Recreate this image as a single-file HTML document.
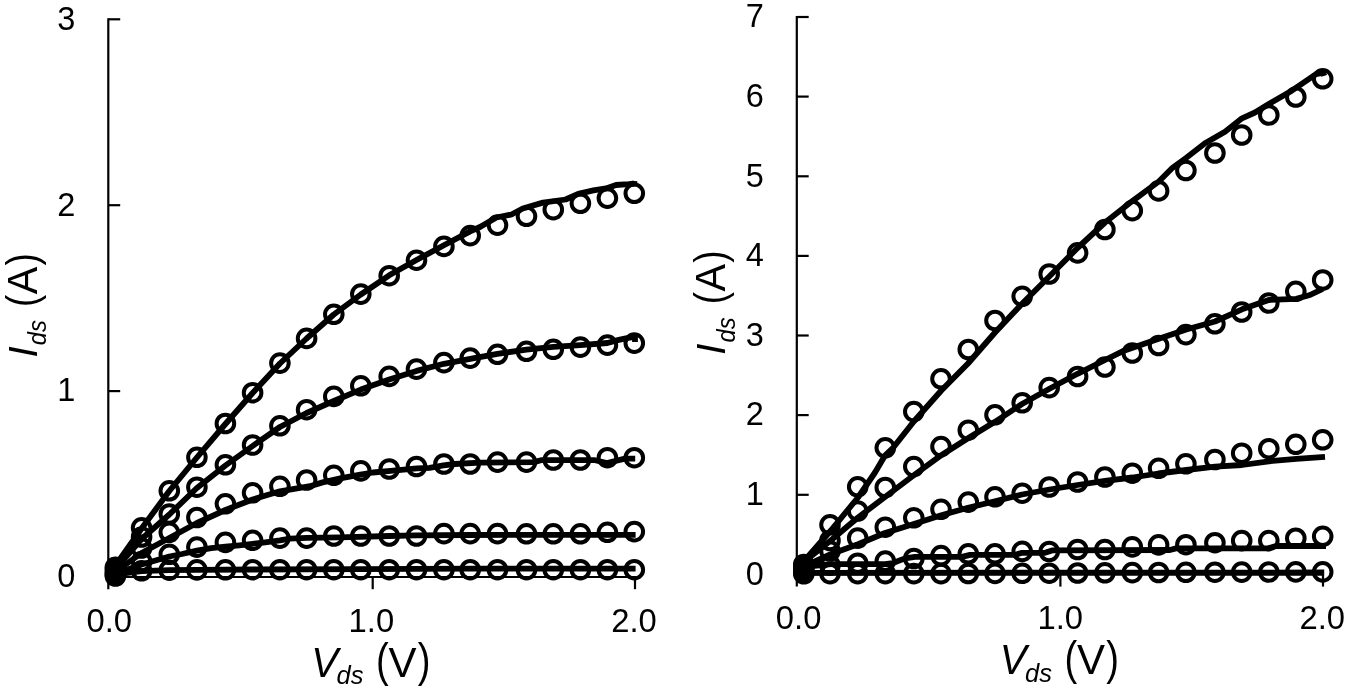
<!DOCTYPE html>
<html><head><meta charset="utf-8"><title>Ids-Vds</title>
<style>
html,body{margin:0;padding:0;background:#fff;}
body{width:1350px;height:692px;overflow:hidden;}
svg{display:block;filter:grayscale(1);}
text{font-family:"Liberation Sans",sans-serif;fill:#000;}
.ax{stroke:#000;stroke-width:2.20;fill:none;stroke-linecap:butt;}
.cv{stroke:#000;stroke-width:5.80;fill:none;stroke-linejoin:round;stroke-linecap:butt;}
.pt{stroke:#000;stroke-width:4.00;fill:none;}
.tk{font-size:32.5px;}
.it{font-style:italic;}
</style></head><body>
<svg width="1350" height="692" viewBox="0 0 1350 692">
<rect x="0" y="0" width="1350" height="692" fill="#fff"/>
<g class="ax">
<line x1="108.3" y1="18.2" x2="108.3" y2="589.2"/>
<line x1="108.3" y1="577.0" x2="636.0" y2="577.0"/>
<line x1="108.3" y1="391.1" x2="120.2" y2="391.1"/>
<line x1="108.3" y1="205.2" x2="120.2" y2="205.2"/>
<line x1="108.3" y1="19.3" x2="120.2" y2="19.3"/>
<line x1="372.7" y1="577.0" x2="372.7" y2="589.2"/>
<line x1="635.0" y1="577.0" x2="635.0" y2="589.2"/>
</g>
<text class="tk" x="75.3" y="587.3" text-anchor="end">0</text>
<text class="tk" x="75.3" y="401.4" text-anchor="end">1</text>
<text class="tk" x="75.3" y="215.5" text-anchor="end">2</text>
<text class="tk" x="75.3" y="29.6" text-anchor="end">3</text>
<text class="tk" x="109.3" y="632.0" text-anchor="middle" textLength="45.6" lengthAdjust="spacingAndGlyphs">0.0</text>
<text class="tk" x="371.4" y="632.0" text-anchor="middle" textLength="45.6" lengthAdjust="spacingAndGlyphs">1.0</text>
<text class="tk" x="634.0" y="632.0" text-anchor="middle" textLength="45.6" lengthAdjust="spacingAndGlyphs">2.0</text>
<path class="cv" d="M108.5,576.0 L118.0,562.0 L141.6,528.5 L169.3,491.0 L196.9,457.5 L225.4,424.0 L252.6,393.0 L279.9,363.5 L306.6,338.5 L333.8,314.5 L360.8,294.5 L389.2,275.3 L416.5,260.0 L443.9,245.3 L470.2,231.4 L480.0,227.0 L496.4,217.5 L511.5,214.5 L522.8,208.5 L543.0,202.6 L565.6,199.5 L578.2,193.8 L593.4,190.4 L606.0,188.4 L616.0,185.0 L628.6,184.2 L634.3,183.6 L634.5,181.0"/>
<path class="cv" d="M108.5,576.0 L118.0,566.0 L141.6,539.0 L169.3,514.5 L196.9,488.0 L225.4,465.5 L252.6,446.0 L279.9,427.0 L306.6,413.0 L333.8,401.0 L360.8,389.6 L389.2,379.6 L416.5,370.9 L443.9,363.8 L470.2,358.8 L497.4,353.8 L526.5,349.6 L553.3,346.8 L580.4,345.1 L607.4,343.0 L618.8,339.9 L630.7,337.3 L635.0,337.0 L635.0,342.0"/>
<path class="cv" d="M108.5,576.5 L118.0,570.0 L141.6,553.0 L169.3,538.0 L196.9,523.0 L225.4,510.0 L252.6,499.5 L279.9,491.3 L310.0,486.2 L322.6,482.4 L341.5,478.2 L360.4,474.6 L373.0,472.5 L390.6,470.8 L417.0,468.4 L429.6,467.8 L443.5,465.3 L454.8,464.0 L480.0,462.6 L534.0,462.1 L541.0,460.2 L595.0,460.2 L607.0,463.0 L625.0,458.6 L635.2,458.6"/>
<path class="cv" d="M108.5,576.8 L118.0,573.0 L141.6,564.5 L169.3,556.5 L182.0,554.0 L196.9,550.7 L211.2,548.1 L225.4,546.6 L239.3,545.3 L252.6,543.8 L265.3,542.3 L279.9,540.3 L290.0,538.6 L306.6,537.9 L340.0,537.4 L389.2,536.0 L416.5,535.4 L470.2,535.0 L526.5,534.8 L580.4,534.8 L635.6,534.8"/>
<path class="cv" d="M108.5,576.8 L118.0,574.0 L141.6,571.2 L169.3,570.2 L196.9,569.8 L252.6,569.5 L360.8,569.2 L470.2,568.6 L635.6,568.6"/>
<g class="pt">
<circle cx="115.4" cy="567.3" r="8.8"/>
<circle cx="141.6" cy="527.8" r="8.8"/>
<circle cx="169.3" cy="490.8" r="8.8"/>
<circle cx="196.9" cy="457.3" r="8.8"/>
<circle cx="225.4" cy="423.5" r="8.8"/>
<circle cx="252.6" cy="392.7" r="8.8"/>
<circle cx="279.9" cy="363.1" r="8.8"/>
<circle cx="306.6" cy="338.4" r="8.8"/>
<circle cx="333.8" cy="314.3" r="8.8"/>
<circle cx="360.8" cy="294.1" r="8.8"/>
<circle cx="389.2" cy="275.7" r="8.8"/>
<circle cx="416.5" cy="260.2" r="8.8"/>
<circle cx="443.9" cy="246.4" r="8.8"/>
<circle cx="470.2" cy="235.6" r="8.8"/>
<circle cx="497.5" cy="225.1" r="8.8"/>
<circle cx="526.5" cy="216.3" r="8.8"/>
<circle cx="553.3" cy="209.6" r="8.8"/>
<circle cx="580.4" cy="203.3" r="8.8"/>
<circle cx="607.4" cy="198.1" r="8.8"/>
<circle cx="634.3" cy="193.3" r="8.8"/>
<circle cx="115.4" cy="569.5" r="8.8"/>
<circle cx="141.6" cy="537.0" r="8.8"/>
<circle cx="169.3" cy="514.0" r="8.8"/>
<circle cx="196.9" cy="487.2" r="8.8"/>
<circle cx="225.4" cy="464.8" r="8.8"/>
<circle cx="252.6" cy="445.0" r="8.8"/>
<circle cx="279.9" cy="425.8" r="8.8"/>
<circle cx="306.6" cy="409.7" r="8.8"/>
<circle cx="333.8" cy="396.4" r="8.8"/>
<circle cx="360.8" cy="385.8" r="8.8"/>
<circle cx="389.2" cy="376.4" r="8.8"/>
<circle cx="416.5" cy="369.1" r="8.8"/>
<circle cx="443.9" cy="362.6" r="8.8"/>
<circle cx="470.2" cy="358.1" r="8.8"/>
<circle cx="497.5" cy="354.3" r="8.8"/>
<circle cx="526.5" cy="351.3" r="8.8"/>
<circle cx="553.3" cy="349.3" r="8.8"/>
<circle cx="580.4" cy="347.1" r="8.8"/>
<circle cx="607.4" cy="345.1" r="8.8"/>
<circle cx="634.3" cy="343.1" r="8.8"/>
<circle cx="115.4" cy="572.5" r="8.8"/>
<circle cx="141.6" cy="548.0" r="8.8"/>
<circle cx="169.3" cy="532.3" r="8.8"/>
<circle cx="196.9" cy="517.5" r="8.8"/>
<circle cx="225.4" cy="503.8" r="8.8"/>
<circle cx="252.6" cy="492.8" r="8.8"/>
<circle cx="279.9" cy="486.3" r="8.8"/>
<circle cx="306.6" cy="480.0" r="8.8"/>
<circle cx="333.8" cy="475.3" r="8.8"/>
<circle cx="360.8" cy="470.9" r="8.8"/>
<circle cx="389.2" cy="469.0" r="8.8"/>
<circle cx="416.5" cy="466.5" r="8.8"/>
<circle cx="443.9" cy="464.0" r="8.8"/>
<circle cx="470.2" cy="464.0" r="8.8"/>
<circle cx="497.5" cy="462.1" r="8.8"/>
<circle cx="526.5" cy="462.1" r="8.8"/>
<circle cx="553.3" cy="460.0" r="8.8"/>
<circle cx="580.4" cy="460.0" r="8.8"/>
<circle cx="607.4" cy="457.7" r="8.8"/>
<circle cx="634.3" cy="457.7" r="8.8"/>
<circle cx="115.4" cy="574.5" r="8.8"/>
<circle cx="141.6" cy="561.5" r="8.8"/>
<circle cx="169.3" cy="554.3" r="8.8"/>
<circle cx="196.9" cy="547.1" r="8.8"/>
<circle cx="225.4" cy="542.4" r="8.8"/>
<circle cx="252.6" cy="540.3" r="8.8"/>
<circle cx="279.9" cy="538.1" r="8.8"/>
<circle cx="306.6" cy="538.1" r="8.8"/>
<circle cx="333.8" cy="536.0" r="8.8"/>
<circle cx="360.8" cy="536.0" r="8.8"/>
<circle cx="389.2" cy="536.0" r="8.8"/>
<circle cx="416.5" cy="536.0" r="8.8"/>
<circle cx="443.9" cy="533.6" r="8.8"/>
<circle cx="470.2" cy="533.6" r="8.8"/>
<circle cx="497.5" cy="533.6" r="8.8"/>
<circle cx="526.5" cy="533.8" r="8.8"/>
<circle cx="553.3" cy="533.8" r="8.8"/>
<circle cx="580.4" cy="533.8" r="8.8"/>
<circle cx="607.4" cy="532.3" r="8.8"/>
<circle cx="634.3" cy="531.6" r="8.8"/>
<circle cx="115.4" cy="576.0" r="8.8"/>
<circle cx="141.6" cy="570.8" r="8.8"/>
<circle cx="169.3" cy="570.2" r="8.8"/>
<circle cx="196.9" cy="569.9" r="8.8"/>
<circle cx="225.4" cy="569.8" r="8.8"/>
<circle cx="252.6" cy="569.7" r="8.8"/>
<circle cx="279.9" cy="569.7" r="8.8"/>
<circle cx="306.6" cy="569.7" r="8.8"/>
<circle cx="333.8" cy="569.7" r="8.8"/>
<circle cx="360.8" cy="569.7" r="8.8"/>
<circle cx="389.2" cy="569.7" r="8.8"/>
<circle cx="416.5" cy="569.7" r="8.8"/>
<circle cx="443.9" cy="569.7" r="8.8"/>
<circle cx="470.2" cy="569.7" r="8.8"/>
<circle cx="497.5" cy="569.7" r="8.8"/>
<circle cx="526.5" cy="569.7" r="8.8"/>
<circle cx="553.3" cy="569.7" r="8.8"/>
<circle cx="580.4" cy="569.7" r="8.8"/>
<circle cx="607.4" cy="569.7" r="8.8"/>
<circle cx="634.3" cy="569.7" r="8.8"/>
</g>
<text class="it" font-size="41.5" transform="translate(36.60,357.80) rotate(-90) scale(1.0,1)">I</text>
<text class="it" font-size="25.0" transform="translate(46.00,345.20) rotate(-90) scale(0.95,1)">ds</text>
<text class="" font-size="43.5" transform="translate(36.90,307.00) rotate(-90) scale(0.85,1)">(</text>
<text class="" font-size="42.0" transform="translate(36.60,294.20) rotate(-90) scale(0.98,1)">A</text>
<text class="" font-size="43.5" transform="translate(36.90,265.40) rotate(-90) scale(0.85,1)">)</text>
<text class="it" font-size="42.0" transform="translate(311.30,677.00) scale(0.96,1)">V</text>
<text class="it" font-size="25.0" transform="translate(336.50,684.20) scale(1.02,1)">ds</text>
<text class="" font-size="46.0" transform="translate(375.90,676.40) scale(0.83,1)">(</text>
<text class="" font-size="42.0" transform="translate(388.40,677.00) scale(1.0,1)">V</text>
<text class="" font-size="46.0" transform="translate(417.80,676.40) scale(0.83,1)">)</text>
<g class="ax">
<line x1="796.8" y1="15.9" x2="796.8" y2="586.6"/>
<line x1="796.8" y1="574.4" x2="1324.0" y2="574.4"/>
<line x1="796.8" y1="494.8" x2="808.7" y2="494.8"/>
<line x1="796.8" y1="415.1" x2="808.7" y2="415.1"/>
<line x1="796.8" y1="335.5" x2="808.7" y2="335.5"/>
<line x1="796.8" y1="255.9" x2="808.7" y2="255.9"/>
<line x1="796.8" y1="176.3" x2="808.7" y2="176.3"/>
<line x1="796.8" y1="96.6" x2="808.7" y2="96.6"/>
<line x1="796.8" y1="17.0" x2="808.7" y2="17.0"/>
<line x1="1060.4" y1="574.4" x2="1060.4" y2="586.6"/>
<line x1="1323.0" y1="574.4" x2="1323.0" y2="586.6"/>
</g>
<text class="tk" x="763.8" y="584.7" text-anchor="end">0</text>
<text class="tk" x="763.8" y="505.1" text-anchor="end">1</text>
<text class="tk" x="763.8" y="425.4" text-anchor="end">2</text>
<text class="tk" x="763.8" y="345.8" text-anchor="end">3</text>
<text class="tk" x="763.8" y="266.2" text-anchor="end">4</text>
<text class="tk" x="763.8" y="186.6" text-anchor="end">5</text>
<text class="tk" x="763.8" y="106.9" text-anchor="end">6</text>
<text class="tk" x="763.8" y="27.3" text-anchor="end">7</text>
<text class="tk" x="798.6" y="629.2" text-anchor="middle" textLength="45.6" lengthAdjust="spacingAndGlyphs">0.0</text>
<text class="tk" x="1060.2" y="629.2" text-anchor="middle" textLength="45.6" lengthAdjust="spacingAndGlyphs">1.0</text>
<text class="tk" x="1322.2" y="629.2" text-anchor="middle" textLength="45.6" lengthAdjust="spacingAndGlyphs">2.0</text>
<path class="cv" d="M797.0,573.5 L805.0,560.0 L831.3,530.0 L858.0,497.5 L875.0,472.5 L885.0,455.5 L893.3,447.5 L913.8,421.5 L941.3,390.5 L968.0,363.5 L995.0,332.5 L1022.0,303.8 L1049.5,276.3 L1077.5,248.0 L1105.0,222.5 L1132.0,201.3 L1158.8,181.5 L1172.5,167.8 L1186.3,157.8 L1205.0,143.2 L1225.0,131.8 L1242.0,118.3 L1255.0,112.5 L1268.8,104.0 L1290.0,91.8 L1304.7,81.8 L1316.0,74.2 L1323.2,72.6 L1324.2,75.8"/>
<path class="cv" d="M797.0,573.5 L805.0,561.0 L831.3,540.0 L858.0,517.5 L885.0,497.0 L913.8,475.2 L941.3,455.2 L968.0,438.3 L995.0,421.8 L1022.0,404.0 L1049.5,388.8 L1077.5,373.8 L1105.0,360.0 L1122.5,351.3 L1158.8,338.8 L1186.3,329.5 L1215.0,321.5 L1242.0,309.3 L1268.8,300.0 L1296.3,298.8 L1310.0,295.0 L1322.7,288.8"/>
<path class="cv" d="M797.0,574.0 L805.0,566.0 L831.3,554.0 L858.0,544.2 L885.0,533.0 L913.8,524.0 L941.3,515.3 L968.0,507.8 L995.0,501.2 L1022.0,494.5 L1049.5,489.5 L1077.5,485.0 L1105.0,480.8 L1132.5,477.5 L1158.3,473.5 L1186.3,470.0 L1215.0,466.7 L1242.0,465.0 L1268.8,461.3 L1296.3,458.8 L1325.0,456.8"/>
<path class="cv" d="M797.0,574.0 L812.0,566.0 L831.0,564.2 L885.0,564.2 L893.0,563.0 L905.0,558.4 L915.0,556.9 L962.0,556.9 L970.0,554.9 L1015.0,554.9 L1022.0,552.8 L1045.0,552.8 L1052.0,550.4 L1170.0,550.0 L1176.0,548.4 L1268.0,548.4 L1276.0,546.0 L1326.0,546.0"/>
<path class="cv" d="M797.0,574.0 L815.0,572.8 L1324.2,572.5"/>
<g class="pt">
<circle cx="803.8" cy="564.5" r="8.8"/>
<circle cx="830.0" cy="524.8" r="8.8"/>
<circle cx="857.7" cy="486.8" r="8.8"/>
<circle cx="885.3" cy="447.8" r="8.8"/>
<circle cx="913.8" cy="411.6" r="8.8"/>
<circle cx="941.0" cy="378.8" r="8.8"/>
<circle cx="968.3" cy="349.5" r="8.8"/>
<circle cx="995.0" cy="320.5" r="8.8"/>
<circle cx="1022.2" cy="296.3" r="8.8"/>
<circle cx="1049.2" cy="274.0" r="8.8"/>
<circle cx="1077.6" cy="252.9" r="8.8"/>
<circle cx="1104.9" cy="229.5" r="8.8"/>
<circle cx="1132.3" cy="210.6" r="8.8"/>
<circle cx="1158.6" cy="190.9" r="8.8"/>
<circle cx="1185.9" cy="170.5" r="8.8"/>
<circle cx="1214.9" cy="153.0" r="8.8"/>
<circle cx="1241.7" cy="135.0" r="8.8"/>
<circle cx="1268.8" cy="115.0" r="8.8"/>
<circle cx="1295.8" cy="97.0" r="8.8"/>
<circle cx="1322.7" cy="78.8" r="8.8"/>
<circle cx="803.8" cy="566.5" r="8.8"/>
<circle cx="830.0" cy="540.5" r="8.8"/>
<circle cx="857.7" cy="511.0" r="8.8"/>
<circle cx="885.3" cy="487.5" r="8.8"/>
<circle cx="913.8" cy="466.6" r="8.8"/>
<circle cx="941.0" cy="446.6" r="8.8"/>
<circle cx="968.3" cy="430.2" r="8.8"/>
<circle cx="995.0" cy="414.8" r="8.8"/>
<circle cx="1022.2" cy="402.8" r="8.8"/>
<circle cx="1049.2" cy="387.6" r="8.8"/>
<circle cx="1077.6" cy="376.5" r="8.8"/>
<circle cx="1104.9" cy="367.0" r="8.8"/>
<circle cx="1132.3" cy="353.0" r="8.8"/>
<circle cx="1158.6" cy="345.5" r="8.8"/>
<circle cx="1185.9" cy="334.6" r="8.8"/>
<circle cx="1214.9" cy="323.8" r="8.8"/>
<circle cx="1241.7" cy="312.0" r="8.8"/>
<circle cx="1268.8" cy="303.0" r="8.8"/>
<circle cx="1295.8" cy="291.3" r="8.8"/>
<circle cx="1322.7" cy="280.0" r="8.8"/>
<circle cx="803.8" cy="569.5" r="8.8"/>
<circle cx="830.0" cy="551.0" r="8.8"/>
<circle cx="857.7" cy="538.1" r="8.8"/>
<circle cx="885.3" cy="527.2" r="8.8"/>
<circle cx="913.8" cy="517.8" r="8.8"/>
<circle cx="941.0" cy="509.3" r="8.8"/>
<circle cx="968.3" cy="502.1" r="8.8"/>
<circle cx="995.0" cy="496.8" r="8.8"/>
<circle cx="1022.2" cy="493.2" r="8.8"/>
<circle cx="1049.2" cy="487.0" r="8.8"/>
<circle cx="1077.6" cy="482.0" r="8.8"/>
<circle cx="1104.9" cy="477.0" r="8.8"/>
<circle cx="1132.3" cy="473.2" r="8.8"/>
<circle cx="1158.6" cy="468.3" r="8.8"/>
<circle cx="1185.9" cy="463.8" r="8.8"/>
<circle cx="1214.9" cy="459.5" r="8.8"/>
<circle cx="1241.7" cy="453.2" r="8.8"/>
<circle cx="1268.8" cy="448.7" r="8.8"/>
<circle cx="1295.8" cy="444.3" r="8.8"/>
<circle cx="1322.7" cy="439.8" r="8.8"/>
<circle cx="803.8" cy="572.0" r="8.8"/>
<circle cx="830.0" cy="565.2" r="8.8"/>
<circle cx="857.7" cy="563.2" r="8.8"/>
<circle cx="885.3" cy="561.1" r="8.8"/>
<circle cx="913.8" cy="558.5" r="8.8"/>
<circle cx="941.0" cy="555.6" r="8.8"/>
<circle cx="968.3" cy="553.8" r="8.8"/>
<circle cx="995.0" cy="553.8" r="8.8"/>
<circle cx="1022.2" cy="551.4" r="8.8"/>
<circle cx="1049.2" cy="551.5" r="8.8"/>
<circle cx="1077.6" cy="549.5" r="8.8"/>
<circle cx="1104.9" cy="549.5" r="8.8"/>
<circle cx="1132.3" cy="546.9" r="8.8"/>
<circle cx="1158.6" cy="544.9" r="8.8"/>
<circle cx="1185.9" cy="544.7" r="8.8"/>
<circle cx="1214.9" cy="542.7" r="8.8"/>
<circle cx="1241.7" cy="540.6" r="8.8"/>
<circle cx="1268.8" cy="540.6" r="8.8"/>
<circle cx="1295.8" cy="538.2" r="8.8"/>
<circle cx="1322.7" cy="536.3" r="8.8"/>
<circle cx="803.8" cy="573.8" r="8.8"/>
<circle cx="830.0" cy="573.6" r="8.8"/>
<circle cx="857.7" cy="573.6" r="8.8"/>
<circle cx="885.3" cy="573.6" r="8.8"/>
<circle cx="913.8" cy="573.6" r="8.8"/>
<circle cx="941.0" cy="573.6" r="8.8"/>
<circle cx="968.3" cy="573.5" r="8.8"/>
<circle cx="995.0" cy="573.4" r="8.8"/>
<circle cx="1022.2" cy="573.3" r="8.8"/>
<circle cx="1049.2" cy="573.2" r="8.8"/>
<circle cx="1077.6" cy="573.0" r="8.8"/>
<circle cx="1104.9" cy="572.8" r="8.8"/>
<circle cx="1132.3" cy="572.6" r="8.8"/>
<circle cx="1158.6" cy="572.5" r="8.8"/>
<circle cx="1185.9" cy="572.3" r="8.8"/>
<circle cx="1214.9" cy="572.2" r="8.8"/>
<circle cx="1241.7" cy="572.1" r="8.8"/>
<circle cx="1268.8" cy="572.0" r="8.8"/>
<circle cx="1295.8" cy="571.9" r="8.8"/>
<circle cx="1322.7" cy="571.9" r="8.8"/>
</g>
<text class="it" font-size="41.5" transform="translate(725.10,355.10) rotate(-90) scale(1.0,1)">I</text>
<text class="it" font-size="25.0" transform="translate(734.50,342.50) rotate(-90) scale(0.95,1)">ds</text>
<text class="" font-size="43.5" transform="translate(725.40,304.30) rotate(-90) scale(0.85,1)">(</text>
<text class="" font-size="42.0" transform="translate(725.10,291.50) rotate(-90) scale(0.98,1)">A</text>
<text class="" font-size="43.5" transform="translate(725.40,262.70) rotate(-90) scale(0.85,1)">)</text>
<text class="it" font-size="42.0" transform="translate(999.80,674.30) scale(0.96,1)">V</text>
<text class="it" font-size="25.0" transform="translate(1025.00,681.50) scale(1.02,1)">ds</text>
<text class="" font-size="46.0" transform="translate(1064.40,673.70) scale(0.83,1)">(</text>
<text class="" font-size="42.0" transform="translate(1076.90,674.30) scale(1.0,1)">V</text>
<text class="" font-size="46.0" transform="translate(1106.30,673.70) scale(0.83,1)">)</text>
</svg></body></html>
